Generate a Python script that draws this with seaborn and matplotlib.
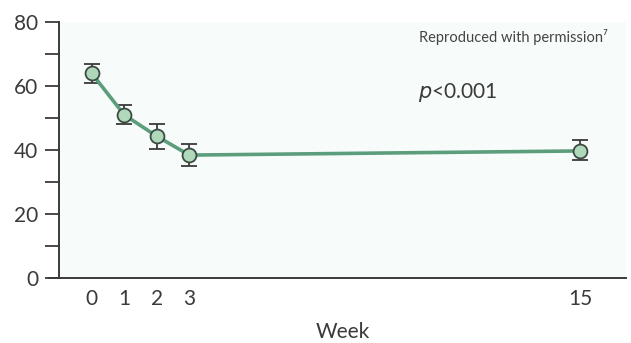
import matplotlib
matplotlib.use("Agg")
import matplotlib.pyplot as plt
import seaborn as sns
import pandas as pd

# values
weeks = [0, 1, 2, 3, 15]
score = [64, 51, 44.3, 38.4, 39.7]
err_low = [3.0, 3.0, 4.0, 3.4, 2.7]
err_high = [3.0, 3.0, 3.7, 3.5, 3.3]
y_ticks = [0, 20, 40, 60, 80]

df = pd.DataFrame({"Week": weeks, "Score": score})

sns.set_theme(style="white")
plt.rcParams["font.family"] = ["Lato", "DejaVu Sans"]

fig = plt.figure(figsize=(6.31, 3.43), dpi=100)
ax = fig.add_axes([0.0935, 0.1895, 0.8985, 0.7465])
ax.set_facecolor("#f7fcfb")

line_col = "#5c9e7c"
dark = "#3a3a3a"
txt = "#3a3a3a"

ax.errorbar(weeks, score, yerr=[err_low, err_high], fmt="none",
            ecolor=dark, elinewidth=1.3, capsize=5.5, capthick=1.3, zorder=2)
sns.lineplot(data=df, x="Week", y="Score", ax=ax, color=line_col, linewidth=2.6,
             marker="o", markersize=10, markerfacecolor="#b0d9bb",
             markeredgecolor="#3c4a42", markeredgewidth=1.3, zorder=3)

ax.set_xlim(-1.0, 16.4)
ax.set_ylim(0, 80)
ax.set_yticks(y_ticks)
ax.set_yticks([10, 30, 50, 70], minor=True)
ax.set_xticks(weeks)
ax.tick_params(axis="y", which="both", direction="out", length=10, width=1.3,
               color=dark, labelsize=15, labelcolor=txt, pad=5, left=True)
ax.tick_params(axis="x", length=0, labelsize=15, labelcolor=txt, pad=8)

for s in ["top", "right"]:
    ax.spines[s].set_visible(False)
for s in ["left", "bottom"]:
    ax.spines[s].set_color(dark)
    ax.spines[s].set_linewidth(1.4)
# bottom line continues out to the left, as in the original
ax.plot([-0.02, 0], [0, 0], transform=ax.transAxes, color=dark, lw=1.4,
        clip_on=False, solid_capstyle="butt")

ax.set_xlabel("Week", fontsize=15, color=txt, labelpad=9)
ax.set_ylabel("")

ax.text(0.968, 0.94, "Reproduced with permission\u2077", transform=ax.transAxes,
        ha="right", va="center", fontsize=10.5, color="#444444")
ax.text(0.633, 0.723, "$p$<0.001", transform=ax.transAxes, ha="left",
        va="center", fontsize=15, color=txt)

fig.savefig("out.png", dpi=100)
